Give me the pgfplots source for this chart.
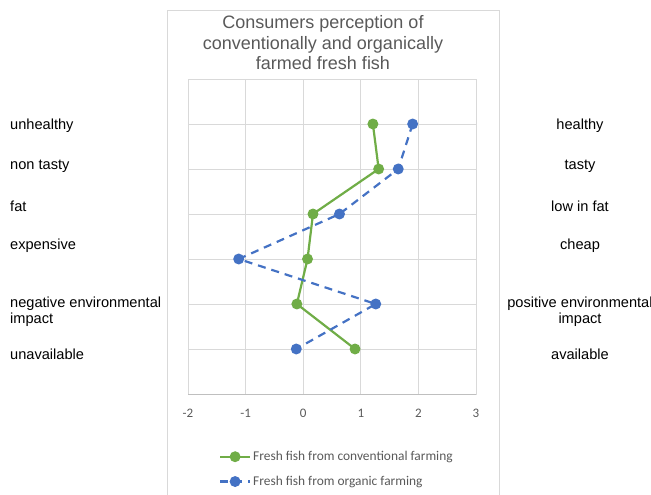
\documentclass[border=0pt]{standalone}
\usepackage{fontspec}
\setmainfont{Liberation Sans}
\newfontfamily\calibri{Carlito}
\usepackage{pgfplots}
\pgfplotsset{compat=1.18}

\definecolor{convgreen}{HTML}{70AD47}
\definecolor{orgblue}{HTML}{4472C4}
\definecolor{gridgray}{HTML}{D9D9D9}
\definecolor{axisgray}{HTML}{BFBFBF}
\definecolor{textgray}{HTML}{595959}

\begin{document}
\begin{tikzpicture}[x=1pt,y=1pt]
\useasboundingbox (0,0) rectangle (651,495);

% chart frame
\draw[gridgray, line width=0.9pt] (167.5,-10) rectangle (499.5,485);

% title
\node[align=center, text=textgray, inner sep=0pt,
      font=\fontsize{18}{20.5}\selectfont] at (323,452)
  {Consumers perception of\\conventionally and organically\\farmed fresh fish};

% negative poles
\begin{scope}[every node/.style={anchor=west, inner sep=0pt, align=left,
              font=\fontsize{14.6}{16}\selectfont}]
  \node at (10,369) {unhealthy};
  \node at (10,329) {non tasty};
  \node at (10,289) {fat};
  \node at (10,249) {expensive};
  \node at (10,183) {negative environmental\\impact};
  \node at (10,141) {unavailable};
\end{scope}

% positive poles
\begin{scope}[every node/.style={anchor=center, inner sep=0pt, align=center,
              font=\fontsize{14.6}{16}\selectfont}]
  \node at (580,369) {healthy};
  \node at (580,329) {tasty};
  \node at (580,289) {low in fat};
  \node at (580,249) {cheap};
  \node at (580,183) {positive environmental\\impact};
  \node at (580,141) {available};
\end{scope}

\begin{axis}[
  at={(188pt,101pt)}, anchor=south west,
  width=288pt, height=315pt, scale only axis,
  xmin=-2, xmax=3, ymin=0, ymax=7,
  xtick={-2,-1,0,1,2,3},
  xticklabels={{-2},{-1},{0},{1},{2},{3}},
  ytick={0,1,...,7}, yticklabels={},
  grid=major,
  major grid style={gridgray, line width=0.9pt},
  axis line style={gridgray, line width=0.9pt},
  major tick length=0pt,
  xticklabel style={font=\calibri\fontsize{13}{13}\selectfont, text=textgray,
                    yshift=-12pt},
  legend style={at={(0.107,-0.175)}, anchor=north west, draw=none, fill=none,
                font=\calibri\fontsize{13.4}{13.4}\selectfont, text=textgray,
                row sep=10pt, inner sep=0pt},
  legend cell align=left,
  legend image code/.code={%
    \draw[mark repeat=2, mark phase=2, #1]
      plot coordinates {(0pt,0pt) (15pt,0pt) (30pt,0pt)};},
  clip=false,
]
\draw[axisgray, line width=0.9pt] (rel axis cs:0,0) -- (rel axis cs:1,0);

\addplot[convgreen, line width=2.2pt, mark=*, mark size=4.3pt,
         mark options={solid}]
  coordinates {(1.21,6) (1.31,5) (0.17,4) (0.075,3) (-0.11,2) (0.90,1)};
\addlegendentry{Fresh fish from conventional farming}

\addplot[orgblue, line width=2.2pt, dash pattern=on 8pt off 6pt,
         mark=*, mark size=4.3pt, mark options={solid}]
  coordinates {(1.90,6) (1.65,5) (0.63,4) (-1.12,3) (1.26,2) (-0.12,1)};
\addlegendentry{Fresh fish from organic farming}
\end{axis}
\end{tikzpicture}
\end{document}
